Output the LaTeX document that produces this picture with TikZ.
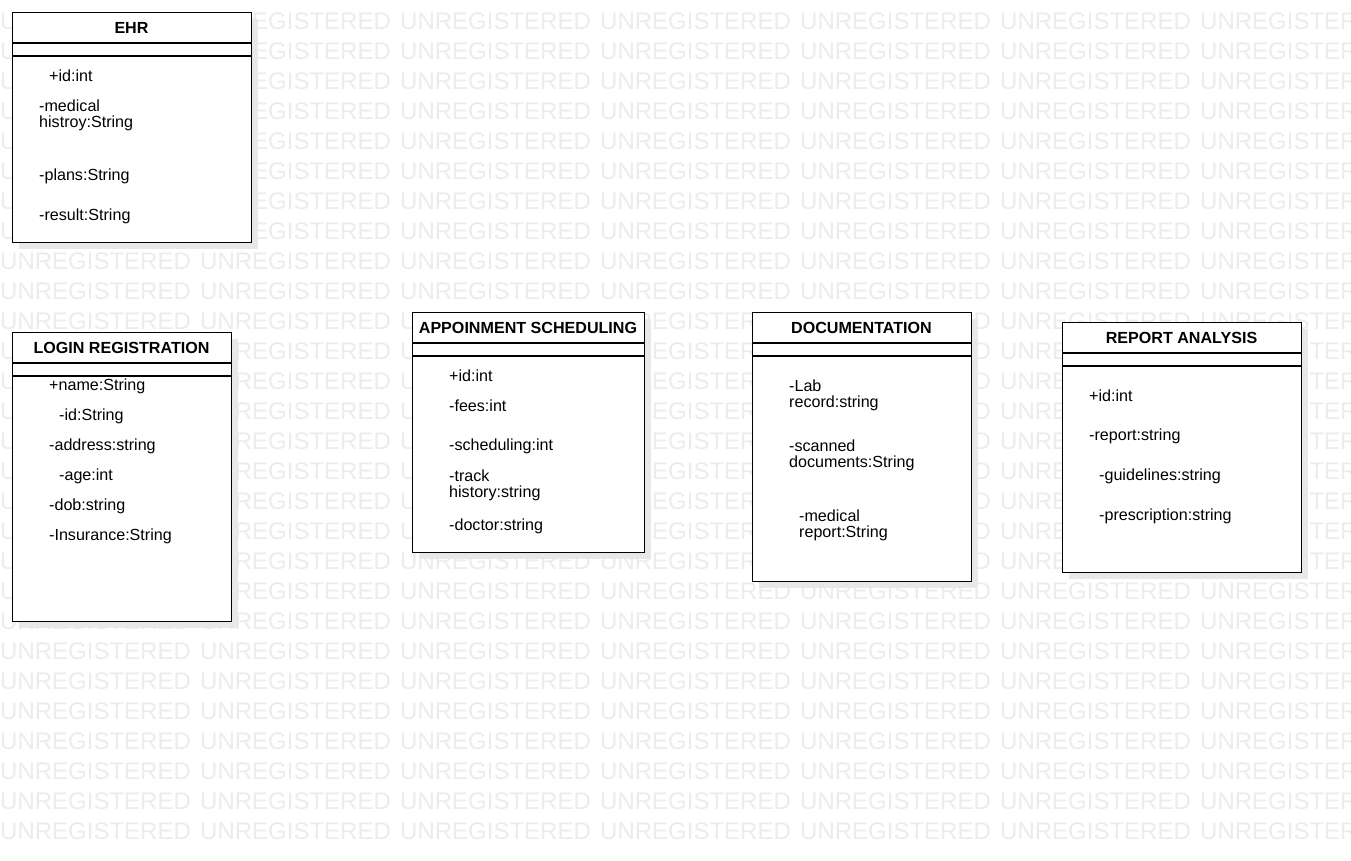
\documentclass[tikz,border=0pt]{standalone}
\usepackage{fontspec}
\setmainfont{Liberation Sans}
\definecolor{wmgray}{RGB}{236,236,236}
\definecolor{shadowgray}{RGB}{232,232,232}
\tikzset{
  wm/.style={anchor=west, inner sep=0pt, text=wmgray, font=\fontsize{24}{24}\selectfont},
  classbox/.style={draw=black, line width=1.2pt, fill=white, anchor=north west, inner sep=0pt},
  shadowbox/.style={fill=shadowgray, draw=none, anchor=north west, inner sep=0pt},
  ctitle/.style={inner sep=0pt, font=\bfseries\fontsize{16.1}{17}\selectfont},
  attr/.style={anchor=west, inner sep=0pt, yshift=-1pt, font=\fontsize{16.1}{17}\selectfont},
  sep/.style={draw=black, line width=1.2pt}
}
\newcommand{\umlclass}[7]{%
  % #1 name, #2 x, #3 y, #4 width, #5 height, #6 title, #7 header height
  \node[shadowbox, minimum width=#4pt, minimum height=#5pt] (#1-shadow) at (#2+7,#3+7) {};
  \node[classbox, minimum width=#4pt, minimum height=#5pt] (#1) at (#2,#3) {};
  \node[ctitle] (#1-title) at (#2+#4/2,#3+#7/2) {#6};
  \coordinate (#1-l1a) at (#2,#3+#7);
  \coordinate (#1-l1b) at (#2+#4,#3+#7);
  \coordinate (#1-l2a) at (#2,#3+#7+13);
  \coordinate (#1-l2b) at (#2+#4,#3+#7+13);
  \draw[sep] (#1-l1a) -- (#1-l1b);
  \draw[sep] (#1-l2a) -- (#1-l2b);
}
\begin{document}
\begin{tikzpicture}[x=1pt,y=-1pt]
\clip (0,0) rectangle (1351,860);
\fill[white] (0,0) rectangle (1351,860);
% watermark
\foreach \r in {0,...,27} {
  \foreach \c in {0,...,6} {
    \node[wm] (wm-\r-\c) at (\c*200, 21+\r*30) {UNREGISTERED};
  }
}
% classes
\umlclass{ehr}{12}{12}{239}{230}{EHR}{31}
\umlclass{login}{12}{332}{219}{289}{LOGIN REGISTRATION}{31}
\umlclass{appt}{412}{312}{232}{240}{APPOINMENT SCHEDULING}{31}
\umlclass{doc}{752}{312}{219}{269}{DOCUMENTATION}{31}
\umlclass{rep}{1062}{322}{239}{250}{REPORT ANALYSIS}{31}
% EHR attributes
\node[attr] (ehr-a1) at (49,75) {+id:int};
\node[attr] (ehr-a2) at (39,105) {-medical};
\node[attr] (ehr-a3) at (39,122) {histroy:String};
\node[attr] (ehr-a4) at (39,175) {-plans:String};
\node[attr] (ehr-a5) at (39,215) {-result:String};
% Login attributes
\node[attr] (login-a1) at (49,385) {+name:String};
\node[attr] (login-a2) at (59,415) {-id:String};
\node[attr] (login-a3) at (49,445) {-address:string};
\node[attr] (login-a4) at (59,475) {-age:int};
\node[attr] (login-a5) at (49,505) {-dob:string};
\node[attr] (login-a6) at (49,535) {-Insurance:String};
% Appointment attributes
\node[attr] (appt-a1) at (449,375) {+id:int};
\node[attr] (appt-a2) at (449,405) {-fees:int};
\node[attr] (appt-a3) at (449,445) {-scheduling:int};
\node[attr] (appt-a4) at (449,475) {-track};
\node[attr] (appt-a5) at (449,492) {history:string};
\node[attr] (appt-a6) at (449,525) {-doctor:string};
% Documentation attributes
\node[attr] (doc-a1) at (789,385) {-Lab};
\node[attr] (doc-a2) at (789,402) {record:string};
\node[attr] (doc-a3) at (789,445) {-scanned};
\node[attr] (doc-a4) at (789,462) {documents:String};
\node[attr] (doc-a5) at (799,515) {-medical};
\node[attr] (doc-a6) at (799,532) {report:String};
% Report attributes
\node[attr] (rep-a1) at (1089,395) {+id:int};
\node[attr] (rep-a2) at (1089,435) {-report:string};
\node[attr] (rep-a3) at (1099,475) {-guidelines:string};
\node[attr] (rep-a4) at (1099,515) {-prescription:string};
\end{tikzpicture}
\end{document}
